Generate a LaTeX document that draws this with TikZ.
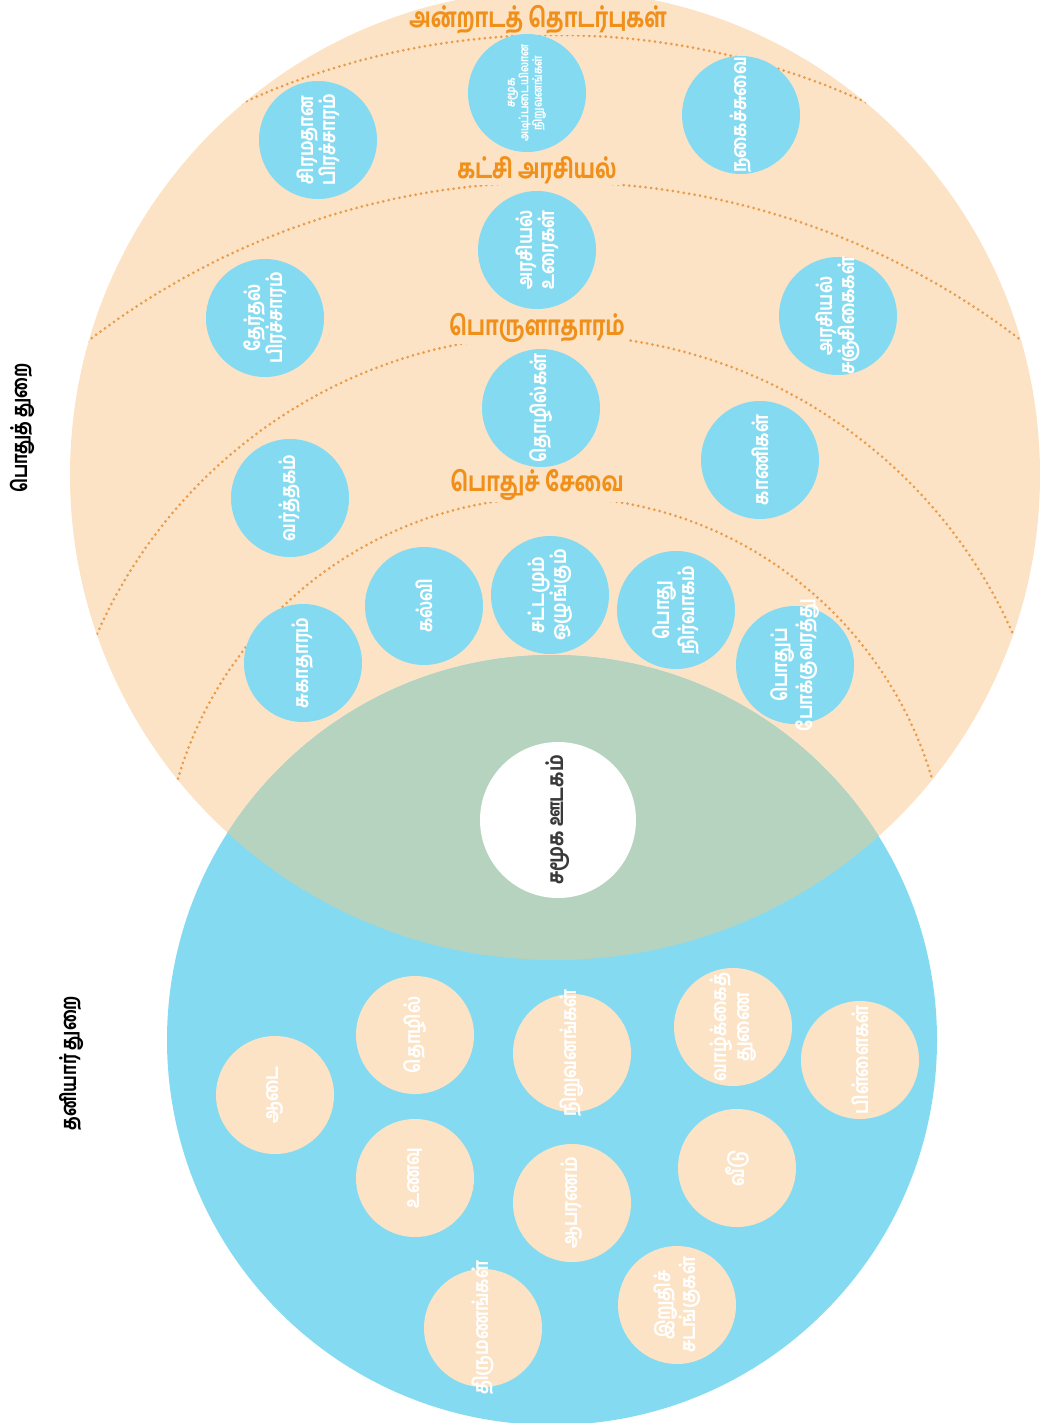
\documentclass[tikz,border=0pt]{standalone}
\usepackage{fontspec}
\IfFontExistsTF{Hind Madurai Bold}{%
  \newfontfamily\tam[Script=Tamil, FakeStretch=0.82]{Hind Madurai Bold}%
  \newfontfamily\tamc[Script=Tamil, FakeStretch=0.78]{Hind Madurai Bold}%
}{%
  \IfFontExistsTF{Hind Madurai SemiBold}{%
    \newfontfamily\tam[Script=Tamil, FakeStretch=0.82]{Hind Madurai SemiBold}%
    \newfontfamily\tamc[Script=Tamil, FakeStretch=0.78]{Hind Madurai SemiBold}%
  }{%
    \newfontfamily\tam[Script=Tamil, FakeStretch=0.82]{Noto Sans Tamil Bold}%
    \newfontfamily\tamc[Script=Tamil, FakeStretch=0.78]{Noto Sans Tamil Bold}%
  }%
}
\definecolor{peach}{HTML}{FCE3C5}
\definecolor{sky}{HTML}{84DBF1}
\definecolor{lensc}{HTML}{B6D3BF}
\definecolor{ora}{HTML}{F0901A}
\definecolor{dotc}{HTML}{E99C4C}
\definecolor{darkt}{HTML}{3A3A3A}
\tikzset{
  bn/.style={circle, fill=sky, minimum size=118pt, inner sep=-16pt, text=white,
    font=\tam\fontsize{20.5}{22.5}\selectfont, align=center, rotate=90},
  pn/.style={bn, fill=peach},
  arclab/.style={text=ora, font=\tamc\fontsize{27}{29}\selectfont, fill=peach, inner xsep=3pt, inner ysep=1pt},
  sidelab/.style={font=\tamc\fontsize{21}{23}\selectfont, rotate=90, text=black},
  arcdot/.style={draw=dotc, line width=3pt, dash pattern=on 0pt off 5.5pt, line cap=round}
}
\begin{document}
\begin{tikzpicture}[x=1pt,y=-1pt]
\useasboundingbox (0,0) rectangle (1040,1423);
\clip (0,0) rectangle (1040,1423);
% big public sphere
\fill[peach] (555,475) circle[radius=485pt];
\begin{scope}
  \clip (555,475) circle[radius=485pt];
  \draw[arcdot] (555,785) circle[radius=750pt];
  \draw[arcdot] (555,947) circle[radius=765pt];
  \draw[arcdot] (555,835) circle[radius=500pt];
  \draw[arcdot] (555,890) circle[radius=393pt];
  % arc labels
  \node[arclab] (l1) at (538,20) {அன்றாடத் தொடர்புகள்};
  \node[arclab] (l2) at (537,170) {கட்சி அரசியல்};
  \node[arclab] (l3) at (537,328) {பொருளாதாரம்};
  \node[arclab] (l4) at (537,485) {பொதுச் சேவை};
\end{scope}
% private sphere
\fill[sky] (552,1040) circle[radius=385pt];
\begin{scope}
  \clip (552,1040) circle[radius=385pt];
  \fill[lensc] (555,475) circle[radius=485pt];
\end{scope}
% side labels
\node[sidelab] (pub) at (22,428) {பொதுத் துறை};
\node[sidelab] (priv) at (72,1063) {தனியார் துறை};
% centre
\node[circle, fill=white, minimum size=156pt, inner sep=0pt, rotate=90, text=darkt,
  font=\tam\fontsize{22}{24}\selectfont] (cen) at (558,820) {சமூக ஊடகம்};
% public nodes
\node[bn] (a1) at (318,140) {சிரமதான\\பிரச்சாரம்};
\node[bn, font=\tam\fontsize{12}{13.5}\selectfont] (a2) at (527,93) {சமூக\\அடிப்படையிலான\\நிறுவனங்கள்};
\node[bn] (a3) at (741,115) {நகைச்சுவை};
\node[bn] (b1) at (265,318) {தேர்தல்\\பிரச்சாரம்};
\node[bn] (b2) at (537,250) {அரசியல்\\உரைகள்};
\node[bn] (b3) at (838,316) {அரசியல்\\சஞ்சிகைகள்};
\node[bn] (c1) at (290,498) {வர்த்தகம்};
\node[bn] (c2) at (541,408) {தொழில்கள்};
\node[bn] (c3) at (760,460) {காணிகள்};
\node[bn] (d1) at (303,663) {சுகாதாரம்};
\node[bn] (d2) at (424,606) {கல்வி};
\node[bn] (d3) at (550,595) {சட்டமும்\\ஒழுங்கும்};
\node[bn] (d4) at (676,610) {பொது\\நிர்வாகம்};
\node[bn] (d5) at (795,665) {பொதுப்\\போக்குவரத்து};
% private nodes
\node[pn] (p1) at (275,1095) {ஆடை};
\node[pn] (p2) at (415,1035) {தொழில்};
\node[pn] (p3) at (572,1053) {நிறுவனங்கள்};
\node[pn] (p4) at (733,1027) {வாழ்க்கைத்\\துணை};
\node[pn] (p5) at (860,1060) {பிள்ளைகள்};
\node[pn] (p6) at (415,1178) {உணவு};
\node[pn] (p7) at (572,1203) {ஆபரணம்};
\node[pn] (p8) at (737,1168) {வீடு};
\node[pn] (p9) at (483,1328) {திருமணங்கள்};
\node[pn] (p10) at (677,1305) {இறுதிச்\\சடங்குகள்};
\end{tikzpicture}
\end{document}
